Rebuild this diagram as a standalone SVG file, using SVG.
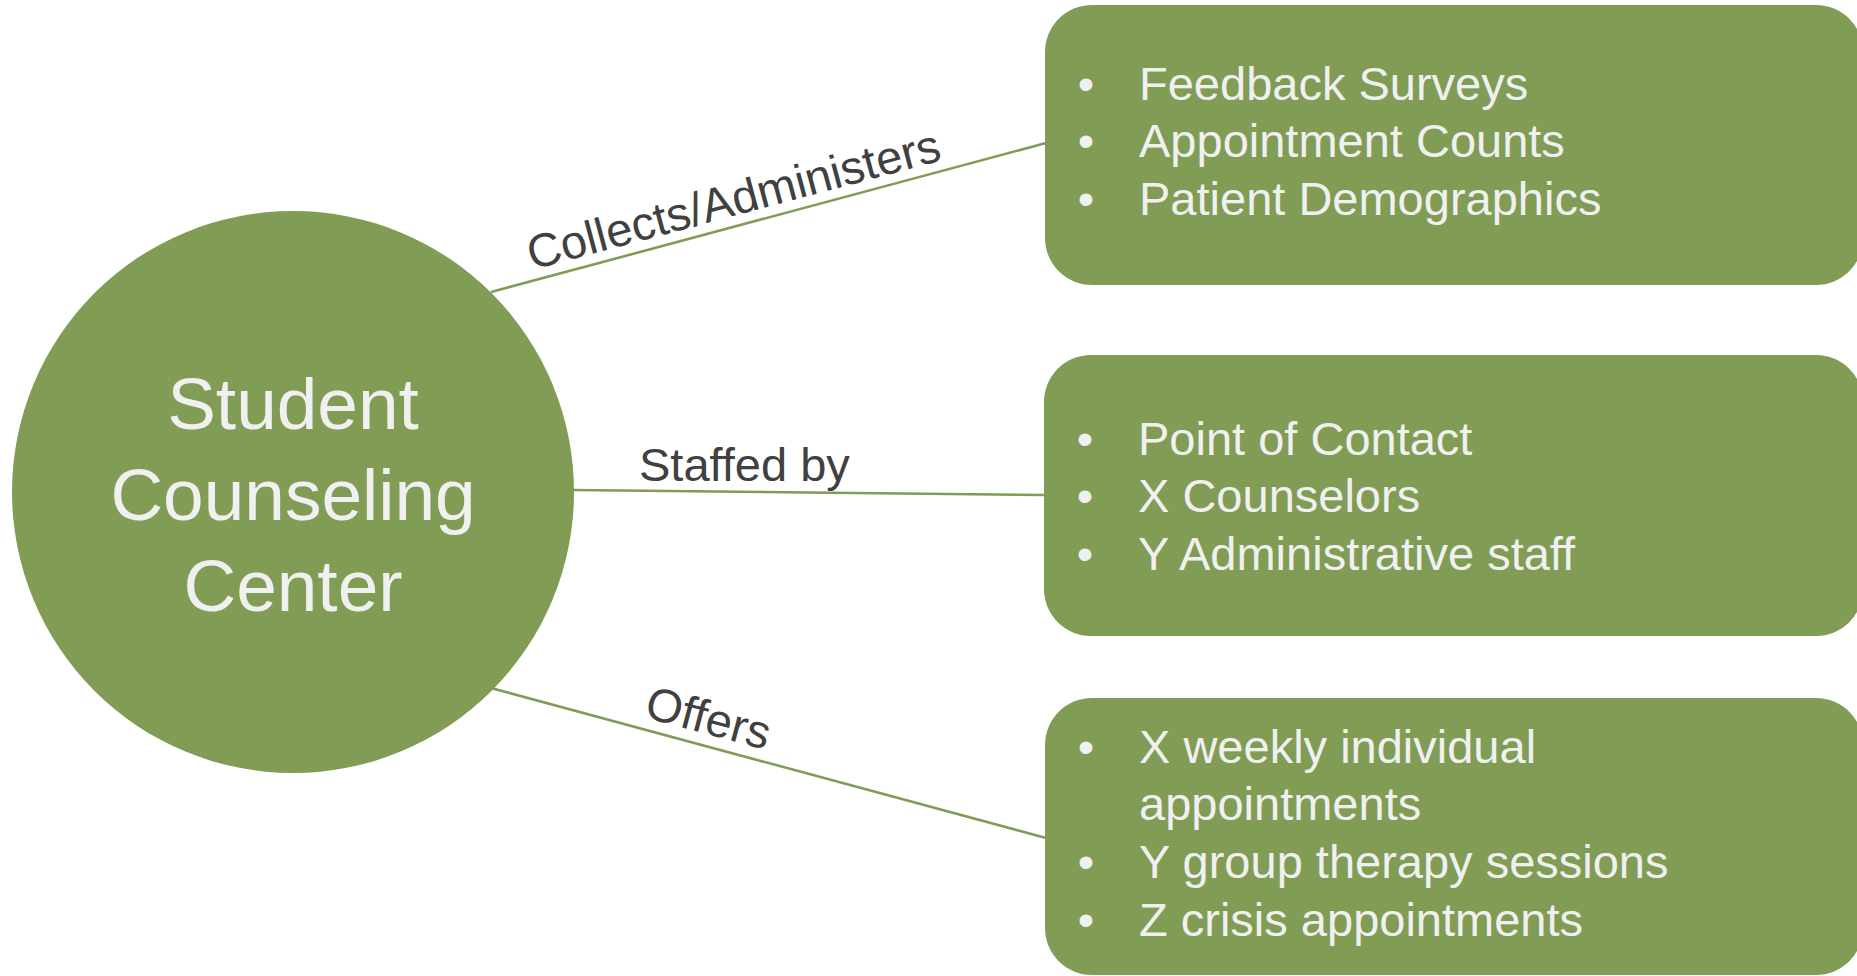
<svg xmlns="http://www.w3.org/2000/svg" width="1857" height="976" viewBox="0 0 1857 976">
  <style>
    .shape { fill: #809c55; }
    .link { stroke: #809c55; stroke-width: 2.6; fill: none; }
    .label { font-family: "Liberation Sans", Arial, sans-serif; font-size: 47px; fill: #404040; }
    .item { font-family: "Liberation Sans", Arial, sans-serif; font-size: 47px; fill: #f0f0f0; }
    .hub { font-family: "Liberation Sans", Arial, sans-serif; font-size: 73px; fill: #f0f0f0; text-anchor: middle; }
    .dot { text-anchor: middle; }
  </style>
  <rect width="1857" height="976" fill="#ffffff"/>

  <!-- connectors -->
  <g id="connectors">
    <line class="link" x1="491" y1="292" x2="1046" y2="143"/>
    <line class="link" x1="572" y1="490" x2="1046" y2="495"/>
    <line class="link" x1="491" y1="688" x2="1046" y2="838"/>
    <text class="label" transform="translate(532 270) rotate(-15)">Collects/Administers</text>
    <text class="label" x="639" y="481">Staffed by</text>
    <text class="label" transform="translate(643 717) rotate(15)">Offers</text>
  </g>

  <!-- central node -->
  <g id="center">
    <circle class="shape" cx="293" cy="492" r="281"/>
    <text class="hub" x="293" y="429">Student</text>
    <text class="hub" x="293" y="520">Counseling</text>
    <text class="hub" x="293" y="611">Center</text>
  </g>

  <!-- data collected -->
  <g id="collects">
    <rect class="shape" x="1045" y="5" width="818" height="280" rx="47" ry="47"/>
    <text class="item dot" x="1086" y="100">•</text>
    <text class="item" x="1139" y="100">Feedback Surveys</text>
    <text class="item dot" x="1086" y="157">•</text>
    <text class="item" x="1139" y="157">Appointment Counts</text>
    <text class="item dot" x="1086" y="215">•</text>
    <text class="item" x="1139" y="215">Patient Demographics</text>
  </g>

  <!-- staffing -->
  <g id="staff">
    <rect class="shape" x="1044" y="355" width="819" height="281" rx="47" ry="47"/>
    <text class="item dot" x="1085" y="455">•</text>
    <text class="item" x="1138" y="455">Point of Contact</text>
    <text class="item dot" x="1085" y="512">•</text>
    <text class="item" x="1138" y="512">X Counselors</text>
    <text class="item dot" x="1085" y="570">•</text>
    <text class="item" x="1138" y="570">Y Administrative staff</text>
  </g>

  <!-- services offered -->
  <g id="offers">
    <rect class="shape" x="1045" y="698" width="818" height="277" rx="47" ry="47"/>
    <text class="item dot" x="1086" y="763">•</text>
    <text class="item" x="1139" y="763">X weekly individual</text>
    <text class="item" x="1139" y="820">appointments</text>
    <text class="item dot" x="1086" y="878">•</text>
    <text class="item" x="1139" y="878">Y group therapy sessions</text>
    <text class="item dot" x="1086" y="936">•</text>
    <text class="item" x="1139" y="936">Z crisis appointments</text>
  </g>
</svg>
